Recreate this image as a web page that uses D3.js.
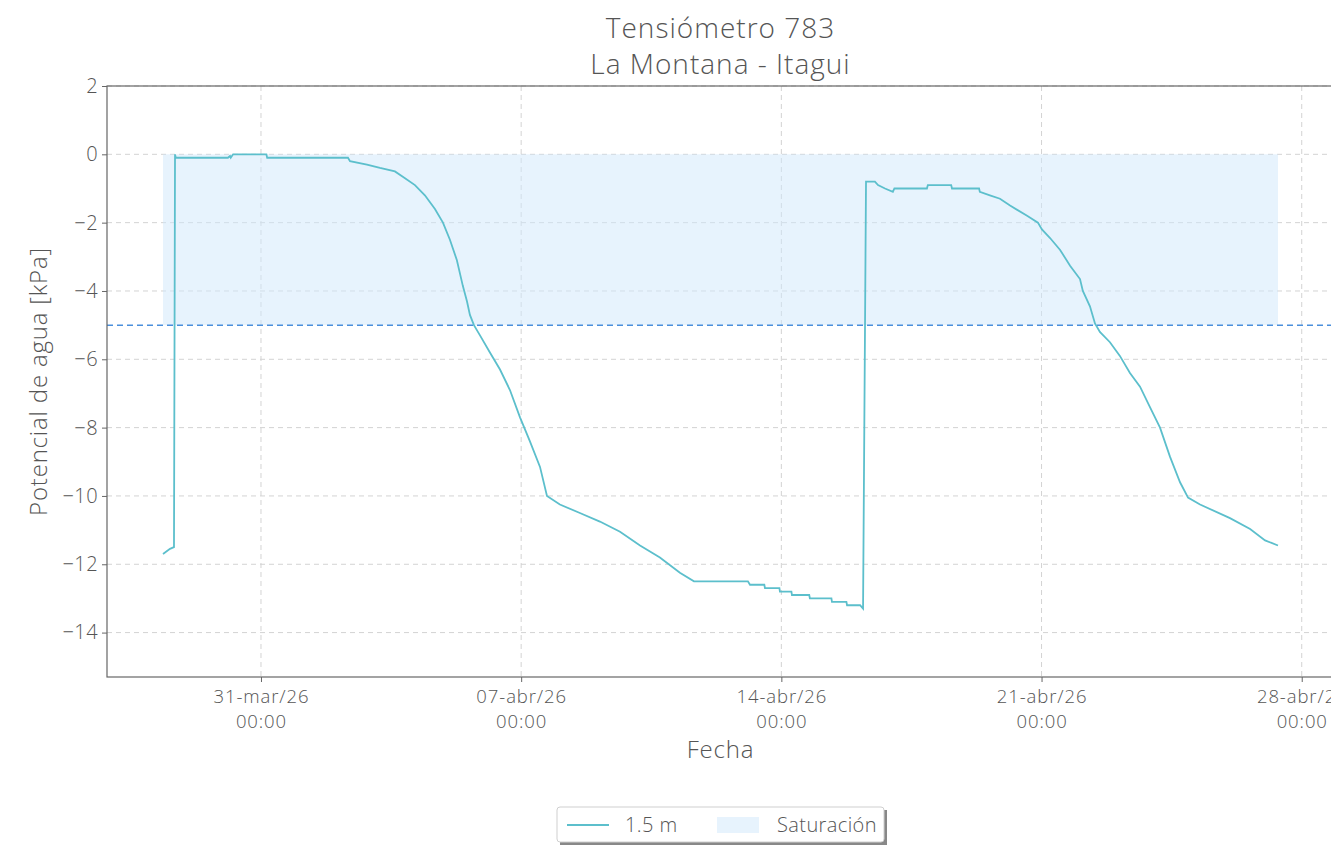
<!DOCTYPE html>
<html><head><meta charset="utf-8">
<script src="https://cdn.jsdelivr.net/npm/d3@7"></script>
<style>
html,body{margin:0;padding:0;background:#fff;overflow:hidden;}
text{font-family:"Open Sans",Lato,sans-serif;font-weight:300;fill:#555;}
</style></head>
<body><svg id="chart" width="1331" height="845"></svg>
<script>
const titleLines = ["Tensiómetro 783", "La Montana - Itagui"];
const xLabel = "Fecha";
const yLabel = "Potencial de agua [kPa]";
const seriesName = "1.5 m";
const bandName = "Saturación";
const monthsEs = ["ene","feb","mar","abr","may","jun","jul","ago","sep","oct","nov","dic"];
const xDomain = ["2026-03-26 20:35", "2026-04-28 20:50"];
const yDomain = [-15.3, 2];
const yTicks = [2, 0, -2, -4, -6, -8, -10, -12, -14];
const xTicks = ["2026-03-31 00:00", "2026-04-07 00:00", "2026-04-14 00:00", "2026-04-21 00:00", "2026-04-28 00:00"];
const saturationTop = 0;
const saturationLimit = -5;

const times = [
"2026-03-28 08:45","2026-03-28 13:15","2026-03-28 15:50","2026-03-28 16:30","2026-03-28 17:00",
"2026-03-30 02:40","2026-03-30 04:00","2026-03-30 04:30","2026-03-30 06:00","2026-03-31 03:30","2026-03-31 04:00",
"2026-04-02 08:10","2026-04-02 09:30",
"2026-04-02 20:25","2026-04-03 04:50","2026-04-03 14:30","2026-04-03 21:00","2026-04-04 03:25",
"2026-04-04 09:50","2026-04-04 16:20","2026-04-04 21:30","2026-04-05 02:00","2026-04-05 06:30",
"2026-04-05 10:20","2026-04-05 13:00","2026-04-05 14:55","2026-04-05 17:30","2026-04-05 21:25",
"2026-04-06 03:50","2026-04-06 10:20","2026-04-06 16:45","2026-04-06 23:15","2026-04-07 05:40",
"2026-04-07 12:10","2026-04-07 16:40","2026-04-08 01:00","2026-04-08 13:55","2026-04-09 02:50",
"2026-04-09 15:50","2026-04-10 04:45","2026-04-10 17:35","2026-04-11 06:30","2026-04-11 15:35",
"2026-04-13 02:25","2026-04-13 03:45","2026-04-13 13:00","2026-04-13 13:25","2026-04-13 22:45","2026-04-13 23:05",
"2026-04-14 06:30","2026-04-14 06:50","2026-04-14 18:00","2026-04-14 18:25","2026-04-15 08:20","2026-04-15 08:40",
"2026-04-15 18:00","2026-04-15 18:25","2026-04-16 02:50","2026-04-16 04:45",
"2026-04-16 06:40","2026-04-16 12:25","2026-04-16 14:25","2026-04-16 18:55","2026-04-17 00:00",
"2026-04-17 01:00","2026-04-17 22:00","2026-04-17 22:35","2026-04-18 13:40","2026-04-18 14:10","2026-04-19 07:40","2026-04-19 08:10","2026-04-19 14:40",
"2026-04-19 21:10","2026-04-20 03:40","2026-04-20 14:40","2026-04-20 21:40","2026-04-21 00:15",
"2026-04-21 05:30","2026-04-21 12:00","2026-04-21 18:25","2026-04-22 00:50","2026-04-22 02:40",
"2026-04-22 07:15","2026-04-22 10:30","2026-04-22 13:40","2026-04-22 20:10","2026-04-23 02:35",
"2026-04-23 09:05","2026-04-23 15:35","2026-04-23 22:00","2026-04-24 04:30","2026-04-24 10:55",
"2026-04-24 17:25","2026-04-24 22:35","2026-04-25 06:20","2026-04-26 01:40","2026-04-26 14:40",
"2026-04-27 00:20","2026-04-27 08:40"];
const values = [
-11.7,-11.55,-11.5,0,-0.1,
-0.1,-0.05,-0.1,0,0,-0.1,
-0.1,-0.2,
-0.3,-0.4,-0.5,-0.7,-0.9,
-1.2,-1.6,-2.0,-2.5,-3.1,
-3.85,-4.3,-4.7,-5.0,-5.3,
-5.8,-6.3,-6.9,-7.7,-8.4,
-9.15,-10.0,-10.25,-10.5,-10.75,
-11.05,-11.45,-11.8,-12.25,-12.5,
-12.5,-12.6,-12.6,-12.7,-12.7,-12.8,
-12.8,-12.9,-12.9,-13.0,-13.0,-13.1,
-13.1,-13.2,-13.2,-13.3,
-0.8,-0.8,-0.9,-1.0,-1.1,
-1.0,-1.0,-0.9,-0.9,-1.0,-1.0,-1.1,-1.2,
-1.3,-1.5,-1.8,-2.0,-2.2,
-2.45,-2.8,-3.26,-3.65,-4.0,
-4.45,-4.95,-5.2,-5.5,-5.9,
-6.4,-6.8,-7.4,-8.0,-8.85,
-9.6,-10.05,-10.25,-10.65,-10.97,
-11.3,-11.45];

const parse = d3.timeParse("%Y-%m-%d %H:%M");
const data = times.map((t,i)=>({t:parse(t), v:values[i]}));

const svg = d3.select("#chart");
const M = {left:107, top:86, right:1334, bottom:677};
const x = d3.scaleTime().domain(xDomain.map(parse)).range([M.left, M.right]);
const y = d3.scaleLinear().domain(yDomain).range([M.bottom, M.top]);

// grid
const g = svg.append("g");
g.selectAll("line.gx").data(xTicks.map(parse)).join("line")
  .attr("x1",d=>x(d)).attr("x2",d=>x(d)).attr("y1",M.top).attr("y2",M.bottom)
  .attr("stroke","#d3d3d3").attr("stroke-width",1).attr("stroke-dasharray","5,4");
g.selectAll("line.gy").data(yTicks).join("line")
  .attr("x1",M.left).attr("x2",M.right).attr("y1",d=>y(d)).attr("y2",d=>y(d))
  .attr("stroke","#d3d3d3").attr("stroke-width",1).attr("stroke-dasharray","5,4");

// saturation band
const t0 = data[0].t, t1 = data[data.length-1].t;
svg.append("rect").attr("x",x(t0)).attr("width",x(t1)-x(t0))
  .attr("y",y(saturationTop)).attr("height",y(saturationLimit)-y(saturationTop))
  .attr("fill","#cfe8fc").attr("opacity",0.5);

// limit line
svg.append("line").attr("x1",M.left).attr("x2",M.right)
  .attr("y1",y(saturationLimit)).attr("y2",y(saturationLimit))
  .attr("stroke","#4a8fdc").attr("stroke-width",1.5).attr("stroke-dasharray","6,4");

// series
svg.append("path").datum(data)
  .attr("d",d3.line().x(d=>x(d.t)).y(d=>y(d.v)).curve(d3.curveLinear))
  .attr("fill","none").attr("stroke","#5cbfcc").attr("stroke-width",1.8);

// axes frame
svg.append("rect").attr("x",M.left).attr("y",M.top).attr("width",M.right-M.left).attr("height",M.bottom-M.top)
  .attr("fill","none").attr("stroke","#666").attr("stroke-width",1.2);

// y axis
const yAx = svg.append("g").attr("transform",`translate(${M.left},0)`)
  .call(d3.axisLeft(y).tickValues(yTicks).tickSize(5).tickPadding(4).tickFormat(d=>d3.format("")(d).replace("-","\u2212")));
yAx.select(".domain").remove();
yAx.selectAll("line").attr("stroke","#666");
yAx.selectAll("text").style("font-size","20px").style("font-family",null).style("letter-spacing","0.4px").attr("fill","#555");

// x axis
const xAx = svg.append("g").attr("transform",`translate(0,${M.bottom})`)
  .call(d3.axisBottom(x).tickValues(xTicks.map(parse)).tickSize(5).tickFormat(""));
xAx.select(".domain").remove();
xAx.selectAll("line").attr("stroke","#666");
xAx.selectAll(".tick").each(function(d){
  const sel = d3.select(this);
  sel.append("text").attr("text-anchor","middle").attr("x",0).attr("y",26)
    .style("font-size","18.5px").style("letter-spacing","0.9px").attr("fill","#555")
    .text(`${d3.timeFormat("%d")(d)}-${monthsEs[d.getMonth()]}/${d3.timeFormat("%y")(d)}`);
  sel.append("text").attr("text-anchor","middle").attr("x",0).attr("y",51)
    .style("font-size","18.5px").style("letter-spacing","0.9px").attr("fill","#555")
    .text(d3.timeFormat("%H:%M")(d));
});

// labels
const cx = (M.left+M.right)/2;
svg.append("text").attr("x",cx).attr("y",38).attr("text-anchor","middle").style("font-size","28px").style("letter-spacing","1px").text(titleLines[0]);
svg.append("text").attr("x",cx).attr("y",74).attr("text-anchor","middle").style("font-size","28px").style("letter-spacing","1px").text(titleLines[1]);
svg.append("text").attr("x",cx).attr("y",758).attr("text-anchor","middle").style("font-size","24px").style("letter-spacing","0.8px").text(xLabel);
svg.append("text").attr("transform",`translate(47,${(M.top+M.bottom)/2}) rotate(-90)`)
  .attr("text-anchor","middle").style("font-size","24px").style("letter-spacing","0.8px").text(yLabel);

// legend
const L = svg.append("g").attr("transform","translate(557,807)");
L.append("rect").attr("x",3).attr("y",3).attr("width",327).attr("height",35).attr("fill","#888");
L.append("rect").attr("x",0).attr("y",0).attr("width",327).attr("height",35).attr("rx",3)
  .attr("fill","#fff").attr("stroke","#cfcfcf");
L.append("line").attr("x1",10).attr("x2",52).attr("y1",18).attr("y2",18).attr("stroke","#5cbfcc").attr("stroke-width",1.8);
L.append("text").attr("x",68).attr("y",25).style("font-size","20px").style("letter-spacing","0.4px").text(seriesName);
L.append("rect").attr("x",160).attr("y",10).attr("width",42).attr("height",16).attr("fill","#cfe8fc").attr("opacity",0.5);
L.append("text").attr("x",220).attr("y",25).style("font-size","20px").style("letter-spacing","0.4px").text(bandName);
</script></body></html>
